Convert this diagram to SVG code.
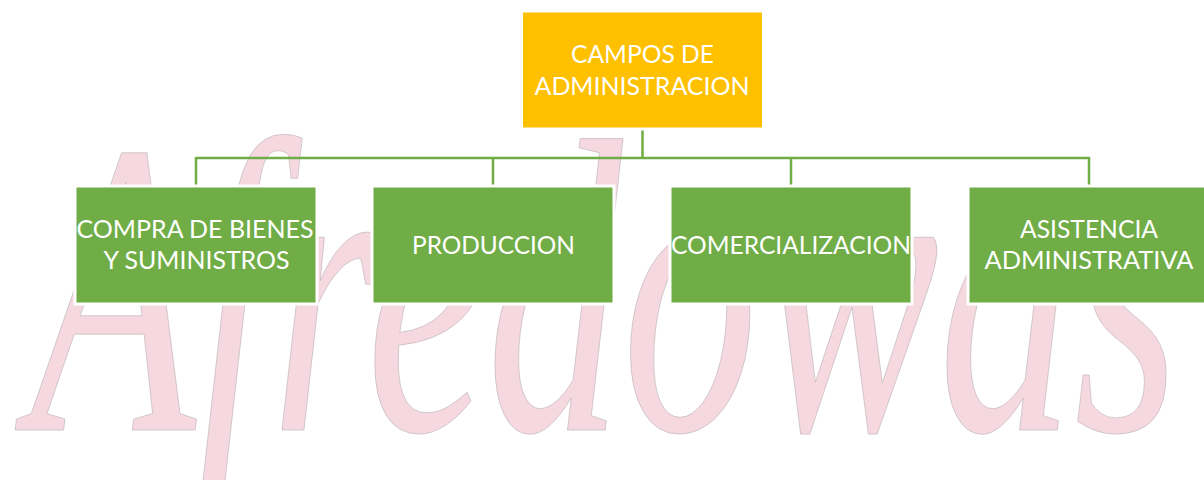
<svg xmlns="http://www.w3.org/2000/svg" width="1204" height="480" viewBox="0 0 1204 480">
  <style>
    .wm { font-family: "Liberation Serif", "DejaVu Serif", serif; font-style: italic; fill: #f6d9e0; stroke: #bdb3b5; stroke-width: 0.8; }
    .top { fill: #FFC000; stroke: #ffffff; stroke-width: 3; }
    .box { fill: #70AD47; stroke: #ffffff; stroke-width: 3; }
    .lbl { font-family: "Lato", "Open Sans", "Liberation Sans", sans-serif; font-size: 25px; fill: #ffffff; text-anchor: middle; }
    .conn { fill: none; stroke: #70AD47; stroke-width: 2.5; }
  </style>
  <rect width="1204" height="480" fill="#ffffff"/>
  <text class="wm" x="30" y="430" font-size="420" textLength="1150" lengthAdjust="spacingAndGlyphs">Afredowas</text>
  <g id="connectors">
    <path class="conn" d="M642.5 129 V158 M196 158 H1089 M196 157 V186 M493 157 V186 M791 157 V186 M1089 157 V186"/>
  </g>
  <g id="node-campos">
    <rect class="top" x="521.5" y="11" width="242" height="118"/>
    <text class="lbl" x="642.5" y="63" textLength="143" lengthAdjust="spacingAndGlyphs">CAMPOS DE</text>
    <text class="lbl" x="642" y="95" textLength="215" lengthAdjust="spacingAndGlyphs">ADMINISTRACION</text>
  </g>
  <g id="node-compra">
    <rect class="box" x="75" y="186" width="242" height="118"/>
    <text class="lbl" x="195" y="238" textLength="237" lengthAdjust="spacingAndGlyphs">COMPRA DE BIENES</text>
    <text class="lbl" x="196.5" y="269" textLength="186" lengthAdjust="spacingAndGlyphs">Y SUMINISTROS</text>
  </g>
  <g id="node-produccion">
    <rect class="box" x="372" y="186" width="242" height="118"/>
    <text class="lbl" x="493.5" y="254" textLength="163" lengthAdjust="spacingAndGlyphs">PRODUCCION</text>
  </g>
  <g id="node-comercializacion">
    <rect class="box" x="670" y="186" width="242" height="118"/>
    <text class="lbl" x="791" y="253.5" textLength="240" lengthAdjust="spacingAndGlyphs">COMERCIALIZACION</text>
  </g>
  <g id="node-asistencia">
    <rect class="box" x="968" y="186" width="242" height="118"/>
    <text class="lbl" x="1089" y="238" textLength="138" lengthAdjust="spacingAndGlyphs">ASISTENCIA</text>
    <text class="lbl" x="1089" y="269" textLength="209" lengthAdjust="spacingAndGlyphs">ADMINISTRATIVA</text>
  </g>
</svg>
